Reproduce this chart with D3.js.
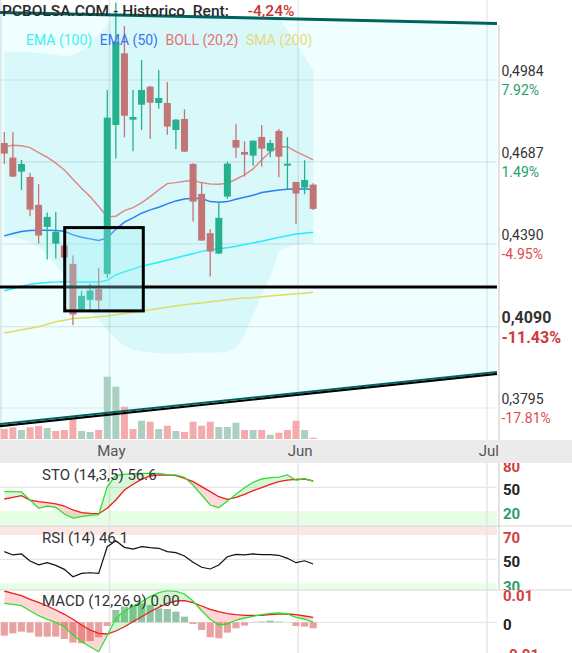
<!DOCTYPE html>
<html>
<head>
<meta charset="utf-8">
<script src="https://cdn.jsdelivr.net/npm/d3@7/dist/d3.min.js"></script>
<style>
html,body{margin:0;padding:0;background:#fff;}
svg{display:block;font-family:Roboto,"Noto Sans",Arial,sans-serif;}
</style>
</head>
<body>
<svg id="chart" width="572" height="653"></svg>
<script>
// ---------------- DATA (one entry per trading day, index based) ----------------
const open  = [0.47558,0.47026,0.46519,0.46327,0.45313,0.44516,0.43911,0.43838,0.43176,0.41510,0.41872,0.42259,0.42813,0.48210,0.50807,0.48402,0.48945,0.49597,0.49007,0.49007,0.48029,0.48427,0.46798,0.45711,0.44288,0.43549,0.45613,0.47667,0.47232,0.47098,0.47776,0.47258,0.47993,0.46736,0.46146,0.45939,0.46048];
const high  = [0.47957,0.47946,0.46942,0.46472,0.46062,0.45034,0.45059,0.43838,0.43476,0.42187,0.42451,0.43031,0.49478,0.52650,0.51796,0.49478,0.50564,0.49634,0.50202,0.49768,0.48427,0.48779,0.46823,0.46135,0.44432,0.45396,0.46881,0.48236,0.47620,0.47642,0.48210,0.47667,0.48065,0.47765,0.46146,0.46932,0.46099];
const low   = [0.46798,0.46320,0.45856,0.44903,0.43911,0.43331,0.43368,0.43404,0.40955,0.41500,0.41510,0.41510,0.42658,0.46990,0.47765,0.47258,0.48029,0.47714,0.48800,0.47859,0.47341,0.47230,0.44708,0.44010,0.42716,0.43540,0.45530,0.47026,0.46338,0.46736,0.46700,0.47040,0.46316,0.45881,0.44614,0.45700,0.45132];
const close = [0.47171,0.46338,0.46798,0.45142,0.44201,0.44878,0.44335,0.43404,0.41339,0.42017,0.42209,0.41846,0.48475,0.51227,0.48547,0.48500,0.49478,0.49018,0.49188,0.48149,0.48402,0.47243,0.45432,0.44020,0.43621,0.44842,0.46808,0.47388,0.47134,0.47642,0.47352,0.47558,0.47062,0.46808,0.45722,0.46218,0.45168];
const volume = [100,117,90,117,130,110,80,90,217,80,70,90,623,523,323,100,183,173,100,133,80,70,173,133,173,120,120,163,90,90,90,43,63,90,183,90,13];

const ema100 = [0.42198,0.42281,0.42361,0.42426,0.42469,0.42495,0.42513,0.42535,0.42524,0.42513,0.42513,0.42513,0.42578,0.42777,0.42886,0.42984,0.43085,0.43158,0.43230,0.43310,0.43386,0.43473,0.43538,0.43628,0.43683,0.43719,0.43755,0.43810,0.43875,0.43936,0.43998,0.44070,0.44135,0.44197,0.44255,0.44288,0.44317];
const ema50  = [0.44190,0.44273,0.44346,0.44382,0.44396,0.44396,0.44382,0.44360,0.44226,0.44143,0.44081,0.44020,0.44117,0.44432,0.44686,0.44842,0.45012,0.45132,0.45229,0.45349,0.45457,0.45530,0.45555,0.45541,0.45432,0.45410,0.45432,0.45519,0.45591,0.45664,0.45758,0.45809,0.45856,0.45881,0.45892,0.45892,0.45881];
const bollMid = [0.47424,0.47475,0.47460,0.47388,0.47207,0.47040,0.46823,0.46580,0.46243,0.45917,0.45613,0.45251,0.44880,0.44904,0.45106,0.45215,0.45385,0.45613,0.45856,0.46084,0.46120,0.46171,0.46193,0.46120,0.46073,0.46062,0.46099,0.46243,0.46399,0.46617,0.46942,0.47243,0.47424,0.47424,0.47243,0.47098,0.46942];
const bollUp  = [0.5085,0.5085,0.5085,0.5084,0.5082,0.5078,0.5075,0.5071,0.5075,0.5089,0.5114,0.5147,0.5183,0.5223,0.5245,0.5256,0.5262,0.5265,0.5265,0.5262,0.5258,0.5255,0.5250,0.5248,0.5245,0.5245,0.5245,0.5248,0.5250,0.5252,0.5250,0.5245,0.5209,0.5165,0.5118,0.5067,0.5020];
const bollLow = [0.4412,0.4412,0.4408,0.4397,0.4379,0.4350,0.4314,0.4274,0.4231,0.4187,0.4147,0.4115,0.4079,0.4046,0.4021,0.4006,0.3999,0.3996,0.3994,0.3993,0.3993,0.3994,0.3995,0.3996,0.3995,0.3996,0.3999,0.4013,0.4060,0.4133,0.4205,0.4271,0.4365,0.4379,0.4386,0.4390,0.4390];
const sma200 = [0.40666,0.40724,0.40785,0.40840,0.40894,0.40984,0.41075,0.41129,0.41191,0.41213,0.41234,0.41256,0.41281,0.41328,0.41376,0.41419,0.41455,0.41510,0.41557,0.41600,0.41644,0.41691,0.41727,0.41756,0.41799,0.41836,0.41872,0.41908,0.41937,0.41951,0.41980,0.42006,0.42035,0.42064,0.42089,0.42114,0.42143];

const stoK = [44.5,44.5,44.1,33.9,23.4,26.3,24.6,16.2,11.1,12.8,14.5,15.4,50.8,65.2,66.4,67.3,67.7,67.7,67.7,66.0,65.6,62.6,52.9,40.3,27.6,24.2,32.7,41.1,49.5,56.3,60.5,62.2,63.0,65.6,58.8,60.9,57.5];
const stoD = [35.2,37.3,39.4,33.9,31.8,30.5,28.9,26.3,21.3,17.9,17.0,16.6,23.4,33.9,46.6,53.8,60.1,64.3,65.6,65.6,64.7,61.4,57.1,50.8,44.5,38.1,34.8,37.3,41.1,45.7,49.5,53.8,57.1,59.2,60.1,60.5,58.0];
const rsi  = [56.3,53.6,54.4,48.6,45.5,47.2,45.0,41.7,35.6,38.4,38.9,38.4,60.4,65.4,59.9,58.5,60.4,59.6,59.1,56.3,55.5,52.7,47.5,43.4,42.0,45.3,52.1,54.1,53.6,54.4,53.8,53.8,53.3,50.8,47.2,48.8,46.1];
// MACD values in thousandths (0.001)
const macd   = [6.51,6.16,5.68,3.97,2.26,1.03,0,-1.51,-4.35,-6.64,-8.36,-10.07,-4.5,1.37,3.87,5.58,7.05,8.77,10.14,10.82,10.62,9.69,7.29,3.97,1.03,-0.92,-0.58,0.79,1.47,2.05,2.60,3.08,3.18,2.84,1.71,1.13,0.0];
const signal = [10.72,9.93,9.11,7.88,6.85,5.58,4.21,2.74,1.03,-0.92,-2.64,-3.77,-4.01,-2.98,-1.51,0.21,1.92,3.63,5.14,6.51,7.29,7.40,6.71,5.58,4.45,3.63,2.95,2.60,2.40,2.40,2.40,2.60,2.84,2.84,2.60,2.16,1.71];
const hist   = [-4.57,-3.77,-3.20,-3.54,-4.91,-4.91,-4.91,-5.71,-6.96,-7.19,-6.39,-5.14,-1.26,4.22,5.37,5.94,6.51,5.94,4.79,4.57,3.65,1.94,-0.57,-2.63,-5.14,-5.48,-3.54,-2.05,-1.14,-0.1,0.23,0.57,0.23,0,-1.26,-1.48,-2.05];

// drawn objects (index, price)
const trendUpper = [[-0.5, 0.5229], [57.42, 0.5189]];
const trendLower = [[-0.5, 0.3733], [57.42, 0.3922]];
const levelPrice = 0.4234;
const boxIndex = [7.04, 16.2];
const boxPrice = [0.4449, 0.4147];

// axis ticks / labels
const priceTicks  = [0.4984, 0.4687, 0.4390, 0.4090, 0.3795];
const priceLabels = ["0,4984", "0,4687", "0,4390", "0,4090", "0,3795"];
const pctLabels   = ["7.92%", "1.49%", "-4.95%", "-11.43%", "-17.81%"];
const highlightTick = 0.4090;
const monthLabels = ["May", "Jun", "Jul"];
const monthPos    = [12.25, 34.25, 56.25];
const stoTicks = [80, 50, 20];
const rsiTicks = [70, 50, 30];
const macdTicks = [10, 0, -10];
const macdTickLabels = ["0.01", "0", "-0.01"];

const titleText = "PCBOLSA.COM - Historico  Rent:";
const titleValue = "-4,24%";
const legendItems = ["EMA (100)", "EMA (50)", "BOLL (20,2)", "SMA (200)"];
const stoLabel = "STO (14,3,5) 56.6";
const rsiLabel = "RSI (14) 46.1";
const macdLabel = "MACD (12,26,9) 0.00";

// ---------------- LAYOUT ----------------
const W = 572, H = 653, PR = 497, BORDER = 499;
const svg = d3.select("#chart");
const defs = svg.append("defs");
const idx = d3.range(close.length);

const x = d3.scaleLinear().domain([0, 57]).range([4.3, 4.3 + 57 * 8.58]);
const y = d3.scaleLinear().domain([0.3795, 0.4984]).range([408, 80]);
const yVol = d3.scaleLinear().domain([0, 700]).range([439, 369]);
const ySto = d3.scaleLinear().domain([0, 100]).range([526.8, 447.8]);
const yRsi = d3.scaleLinear().domain([30, 70]).range([583.5, 535.1]);
const yMacd = d3.scaleLinear().domain([-10, 10]).range([651.5, 593.1]);

function rectClip(id, x0, y0, w, h) {
  defs.append("clipPath").attr("id", id).append("rect")
    .attr("x", x0).attr("y", y0).attr("width", w).attr("height", h);
}
rectClip("cMain", 0, 0, PR, 440);
rectClip("cSto", 0, 463, PR, 63);
rectClip("cRsi", 0, 526, PR, 64);
rectClip("cMacd", 0, 590, PR, 63);
rectClip("lSto", BORDER, 463, W - BORDER, 63);
rectClip("lRsi", BORDER, 526, W - BORDER, 64);
rectClip("lMacd", BORDER, 590, W - BORDER, 63);

svg.append("rect").attr("width", W).attr("height", H).attr("fill", "#fff");

// ---------------- MAIN PRICE PANEL ----------------
const main = svg.append("g").attr("clip-path", "url(#cMain)");
const toXY = ([i, p]) => [x(i), y(p)];
const chanPts = [trendUpper[0], trendUpper[1], trendLower[1], trendLower[0]].map(toXY);
const chanPath = d3.line()(chanPts) + "Z";
main.append("path").attr("d", chanPath).attr("fill", "#effefe");
defs.append("clipPath").attr("id", "cChan").append("path").attr("d", chanPath);

// bollinger band fill
main.append("g").attr("clip-path", "url(#cChan)")
  .append("path")
  .attr("d", d3.area().x(i => x(i)).y0(i => y(bollLow[i])).y1(i => y(bollUp[i]))(idx))
  .attr("fill", "#d9f8fa");

// grid
main.selectAll(".hg").data(priceTicks).join("line")
  .attr("x1", 0).attr("x2", BORDER).attr("y1", d => y(d)).attr("y2", d => y(d))
  .attr("stroke", "rgba(0,60,60,0.10)").attr("stroke-width", 1.2);
main.selectAll(".vg").data(monthPos).join("line")
  .attr("x1", d => x(d)).attr("x2", d => x(d)).attr("y1", 0).attr("y2", 440)
  .attr("stroke", "rgba(0,60,60,0.10)").attr("stroke-width", 1.5);
main.append("line").attr("x1", 1).attr("x2", 1).attr("y1", 0).attr("y2", 440)
  .attr("stroke", "#d6e6e6").attr("stroke-width", 1.5);

// volume
const isUpVol = i => i === 0 ? close[i] >= open[i] : close[i] >= close[i - 1];
main.selectAll(".vol").data(idx).join("rect")
  .attr("x", i => x(i) - 3.5).attr("width", 7)
  .attr("y", i => yVol(volume[i])).attr("height", i => yVol(0) - yVol(volume[i]))
  .attr("fill", i => isUpVol(i) ? "#abd0c2" : "#f4abab");

// indicator lines
const lineOf = arr => d3.line().x(i => x(i)).y(i => y(arr[i]))(idx);
[[sma200, "#dedc62"], [ema100, "#22eefa"], [ema50, "#2a7ff5"], [bollMid, "#e08888"]].forEach(([arr, c]) => {
  main.append("path").attr("d", lineOf(arr)).attr("fill", "none").attr("stroke", c).attr("stroke-width", 1.5);
});

// candles
const upC = "#25b08e", dnC = "#c27575";
const cg = main.append("g");
cg.selectAll(".wick").data(idx).join("line")
  .attr("x1", i => x(i)).attr("x2", i => x(i))
  .attr("y1", i => y(high[i])).attr("y2", i => y(low[i]))
  .attr("stroke", i => close[i] >= open[i] ? upC : dnC).attr("stroke-width", 1.3);
cg.selectAll(".body").data(idx).join("rect")
  .attr("x", i => x(i) - 3.5).attr("width", 7)
  .attr("y", i => y(Math.max(open[i], close[i])))
  .attr("height", i => Math.max(1.5, Math.abs(y(open[i]) - y(close[i]))))
  .attr("fill", i => close[i] >= open[i] ? upC : dnC);

// horizontal level line
main.append("line")
  .attr("x1", x(trendUpper[0][0])).attr("x2", x(trendUpper[1][0]))
  .attr("y1", y(levelPrice)).attr("y2", y(levelPrice))
  .attr("stroke", "#000").attr("stroke-width", 3);

// box
main.append("rect")
  .attr("x", x(boxIndex[0])).attr("y", y(boxPrice[0]))
  .attr("width", x(boxIndex[1]) - x(boxIndex[0])).attr("height", y(boxPrice[1]) - y(boxPrice[0]))
  .attr("fill", "rgba(150,240,250,0.30)").attr("stroke", "#000").attr("stroke-width", 3);

// trend lines
const tl = d3.line();
main.append("path").attr("d", tl(trendLower.map(toXY))).attr("transform", "translate(0,1)")
  .attr("stroke", "#000").attr("stroke-width", 2.2).attr("fill", "none");
main.append("path").attr("d", tl(trendLower.map(toXY))).attr("transform", "translate(0,-1)")
  .attr("stroke", "#00625e").attr("stroke-width", 2).attr("fill", "none");
main.append("path").attr("d", tl(trendUpper.map(toXY)))
  .attr("stroke", "#00625e").attr("stroke-width", 3).attr("fill", "none");

// plot border
svg.append("line").attr("x1", BORDER).attr("x2", BORDER).attr("y1", 25).attr("y2", 440)
  .attr("stroke", "#cfcfcf").attr("stroke-width", 1.2);

// title + legend
const title = svg.append("text").attr("x", 2).attr("y", 16)
  .attr("font-size", 15.5).attr("font-weight", 500).attr("fill", "#2a2a2a")
  .style("white-space", "pre").attr("xml:space", "preserve").text(titleText);
const tw = title.node().getComputedTextLength();
svg.append("text").attr("x", 2 + tw + 19).attr("y", 16)
  .attr("font-size", 15.5).attr("font-weight", 500).attr("fill", "#cc3333").text(titleValue);

const legendColors = ["#3ff0f0", "#3a72f2", "#e57373", "#e4da7a"];
let lx = 26;
legendItems.forEach((t, k) => {
  const el = svg.append("text").attr("x", lx).attr("y", 45).attr("font-size", 14)
    .attr("fill", legendColors[k]).text(t);
  lx += el.node().getComputedTextLength() + 7.5;
});

// price axis labels
const pa = svg.append("g");
priceTicks.forEach((t, k) => {
  const hl = t === highlightTick;
  const gy = y(t);
  pa.append("text").attr("x", 501.5).attr("y", gy - 4)
    .attr("font-size", hl ? 16 : 14).attr("font-weight", hl ? 700 : 400)
    .attr("fill", "#333").text(priceLabels[k]);
  pa.append("text").attr("x", 501.5).attr("y", gy + (hl ? 16 : 15))
    .attr("font-size", hl ? 16 : 14).attr("font-weight", hl ? 700 : 400)
    .attr("fill", pctLabels[k].startsWith("-") ? (hl ? "#d03a3a" : "#dd4b4b") : "#2a9d6e")
    .text(pctLabels[k]);
});

// ---------------- X AXIS BAND ----------------
svg.append("rect").attr("x", 0).attr("y", 440).attr("width", W).attr("height", 23).attr("fill", "#ebebeb");
svg.selectAll(".mlab").data(monthPos).join("text")
  .attr("x", d => x(d) + 2).attr("y", 456).attr("text-anchor", "middle")
  .attr("font-size", 15).attr("fill", "#555").text((d, k) => monthLabels[k]);

// ---------------- INDICATOR PANELS ----------------
function panelBase(g, top, bottom, gridY) {
  g.selectAll(".pv").data(monthPos).join("line")
    .attr("x1", d => x(d)).attr("x2", d => x(d)).attr("y1", top).attr("y2", bottom)
    .attr("stroke", "#e6e6e6").attr("stroke-width", 1.5);
  g.append("line").attr("x1", 0).attr("x2", BORDER).attr("y1", gridY).attr("y2", gridY)
    .attr("stroke", "#e6e6e6").attr("stroke-width", 1.2);
}
function betweenFill(g, a, b, yS, idBase, upColor, dnColor) {
  const between = d3.area().x(i => x(i)).y0(i => yS(a[i])).y1(i => yS(b[i]))(idx);
  defs.append("clipPath").attr("id", idBase + "A").append("path")
    .attr("d", d3.area().x(i => x(i)).y0(0).y1(i => yS(b[i]))(idx));
  defs.append("clipPath").attr("id", idBase + "B").append("path")
    .attr("d", d3.area().x(i => x(i)).y0(H).y1(i => yS(b[i]))(idx));
  g.append("path").attr("d", between).attr("fill", upColor).attr("clip-path", `url(#${idBase}A)`);
  g.append("path").attr("d", between).attr("fill", dnColor).attr("clip-path", `url(#${idBase}B)`);
}

// STO
const sto = svg.append("g").attr("clip-path", "url(#cSto)");
sto.append("rect").attr("x", 0).attr("y", ySto(20)).attr("width", BORDER).attr("height", ySto(0) - ySto(20)).attr("fill", "#e6fde6");
panelBase(sto, 463, 526, ySto(50));
betweenFill(sto, stoK, stoD, ySto, "fs", "rgba(0,210,0,0.15)", "rgba(255,0,0,0.15)");
sto.append("path").attr("d", d3.line().x(i => x(i)).y(i => ySto(stoD[i]))(idx)).attr("fill", "none").attr("stroke", "#ee1c1c").attr("stroke-width", 1.3);
sto.append("path").attr("d", d3.line().x(i => x(i)).y(i => ySto(stoK[i]))(idx)).attr("fill", "none").attr("stroke", "#30e030").attr("stroke-width", 1.3);
svg.append("text").attr("x", 42).attr("y", 480).attr("font-size", 15).attr("fill", "#333").text(stoLabel);

// RSI
const rs = svg.append("g").attr("clip-path", "url(#cRsi)");
rs.append("rect").attr("x", 0).attr("y", 526).attr("width", BORDER).attr("height", yRsi(70) - 526).attr("fill", "#fde6e6");
rs.append("rect").attr("x", 0).attr("y", yRsi(30)).attr("width", BORDER).attr("height", 590 - yRsi(30)).attr("fill", "#e6fde6");
panelBase(rs, 526, 590, yRsi(50));
rs.append("path").attr("d", d3.line().x(i => x(i)).y(i => yRsi(rsi[i]))(idx)).attr("fill", "none").attr("stroke", "#111").attr("stroke-width", 1.2);
svg.append("text").attr("x", 42).attr("y", 543).attr("font-size", 15).attr("fill", "#333").text(rsiLabel);

// MACD
const mc = svg.append("g").attr("clip-path", "url(#cMacd)");
panelBase(mc, 590, 653, yMacd(0));
mc.selectAll(".hb").data(idx).join("rect")
  .attr("x", i => x(i) - 3.6).attr("width", 7.2)
  .attr("y", i => Math.min(yMacd(0), yMacd(hist[i])))
  .attr("height", i => Math.abs(yMacd(hist[i]) - yMacd(0)))
  .attr("fill", i => hist[i] >= 0 ? "#93c4aa" : "#e8a2a2");
betweenFill(mc, macd, signal, yMacd, "fm", "rgba(0,210,0,0.18)", "rgba(255,0,0,0.16)");
mc.append("path").attr("d", d3.line().x(i => x(i)).y(i => yMacd(signal[i]))(idx)).attr("fill", "none").attr("stroke", "#ee1c1c").attr("stroke-width", 1.3);
mc.append("path").attr("d", d3.line().x(i => x(i)).y(i => yMacd(macd[i]))(idx)).attr("fill", "none").attr("stroke", "#30e030").attr("stroke-width", 1.3);
svg.append("text").attr("x", 42).attr("y", 606).attr("font-size", 15).attr("fill", "#333").text(macdLabel);

// panel separators and borders
[526, 590].forEach(v => svg.append("line").attr("x1", 0).attr("x2", W).attr("y1", v).attr("y2", v).attr("stroke", "#d8d8d8").attr("stroke-width", 1.2));
svg.append("line").attr("x1", BORDER).attr("x2", BORDER).attr("y1", 463).attr("y2", 590).attr("stroke", "#d0d0d0").attr("stroke-width", 1.2);

// panel right labels
function panelLabels(clipId, ticks, labels, yS, colors) {
  const g = svg.append("g").attr("clip-path", `url(#${clipId})`);
  ticks.forEach((t, k) => {
    g.append("text").attr("x", 503).attr("y", yS(t) + 8).attr("font-size", 15).attr("font-weight", 700)
      .attr("fill", colors[k]).text(labels[k]);
  });
}
panelLabels("lSto", stoTicks, stoTicks.map(String), ySto, ["#d04040", "#222", "#2a9d6e"]);
panelLabels("lRsi", rsiTicks, rsiTicks.map(String), yRsi, ["#d04040", "#222", "#2a9d6e"]);
panelLabels("lMacd", macdTicks, macdTickLabels, yMacd, ["#d04040", "#222", "#d04040"]);
</script>
</body>
</html>
